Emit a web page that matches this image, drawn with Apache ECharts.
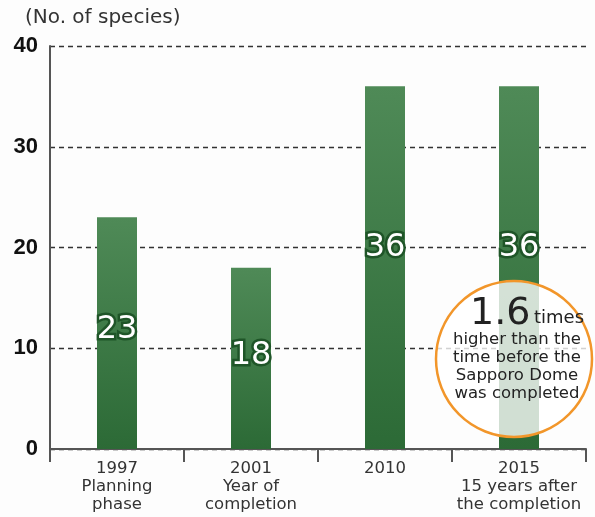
<!DOCTYPE html>
<html><head><meta charset="utf-8">
<script src="https://cdn.jsdelivr.net/npm/echarts@6/dist/echarts.min.js"></script>
<style>html,body{margin:0;padding:0;background:#fdfdfd}#c{width:595px;height:517px}</style>
</head><body><div id="c"></div>
<script>
const years = ['1997', '2001', '2010', '2015'];
const subLabels = ['Planning\nphase', 'Year of\ncompletion', '', '15 years after\nthe completion'];
const species = [23, 18, 36, 36];
const yTicks = [0, 10, 20, 30, 40];
const unitLabel = '(No. of species)';
const noteBig = '1.6';
const noteUnit = 'times';
const noteLines = ['higher than the', 'time before the', 'Sapporo Dome', 'was completed'];

const F = '"DejaVu Sans", "Noto Sans", sans-serif';
const labelOffsets = [[0, -3], [0, -3], [0, -20], [0, -20]];
const chart = echarts.init(document.getElementById('c'));
chart.setOption({
  backgroundColor: '#fdfdfd',
  animation: false,
  grid: { left: 50, right: 9, top: 46, bottom: 68 },
  xAxis: {
    type: 'category',
    data: years.map((y, i) => subLabels[i] ? y + '\n' + subLabels[i] : y),
    axisLine: { lineStyle: { color: '#555', width: 2 } },
    axisTick: { show: true, length: 13, lineStyle: { color: '#555', width: 2 } },
    axisLabel: { color: '#333', fontFamily: F, fontSize: 16.5, lineHeight: 18, margin: 11, interval: 0 }
  },
  yAxis: {
    type: 'value', min: yTicks[0], max: yTicks[yTicks.length - 1], interval: 10,
    axisLine: { show: true, lineStyle: { color: '#555', width: 2 } },
    axisTick: { show: false },
    axisLabel: { color: '#111', fontFamily: '"Liberation Sans", Arial, sans-serif', fontWeight: 'bold', fontSize: 22, margin: 12 },
    splitLine: { show: true, lineStyle: { color: '#333', type: [5, 4], width: 1.3 } }
  },
  series: [{
    type: 'bar',
    barWidth: 40,
    data: species.map((v, i) => ({ value: v, label: { offset: labelOffsets[i] } })),
    itemStyle: {
      color: new echarts.graphic.LinearGradient(0, 0, 0, 1, [
        { offset: 0, color: '#4f8a57' }, { offset: 1, color: '#2c6a36' }
      ])
    },
    label: {
      show: true, position: 'inside', formatter: '{c}',
      color: '#fff', fontFamily: F, fontSize: 32,
      textBorderColor: '#1f5528', textBorderWidth: 5
    },
    z: 2
  }],
  graphic: [
    { type: 'text', left: 25, top: 8, style: { text: unitLabel, fill: '#333', font: '20px ' + F } },
    { type: 'circle', shape: { cx: 514, cy: 359, r: 78 }, z: 10,
      style: { fill: 'rgba(255,255,255,0.78)', stroke: '#f2962a', lineWidth: 2.5 } },
    { type: 'text', z: 11, x: 470, y: 314, style: { text: noteBig, fill: '#222', font: '38px ' + F, verticalAlign: 'middle', textAlign: 'left' } },
    { type: 'text', z: 11, x: 534, y: 318, style: { text: noteUnit, fill: '#222', font: '18px ' + F, verticalAlign: 'middle', textAlign: 'left' } },
    ...noteLines.map((t, i) => ({ type: 'text', z: 11, x: 517, y: 340 + i * 17.8,
      style: { text: t, fill: '#222', font: '16.5px ' + F, verticalAlign: 'middle', textAlign: 'center' } }))
  ]
});
</script></body></html>
